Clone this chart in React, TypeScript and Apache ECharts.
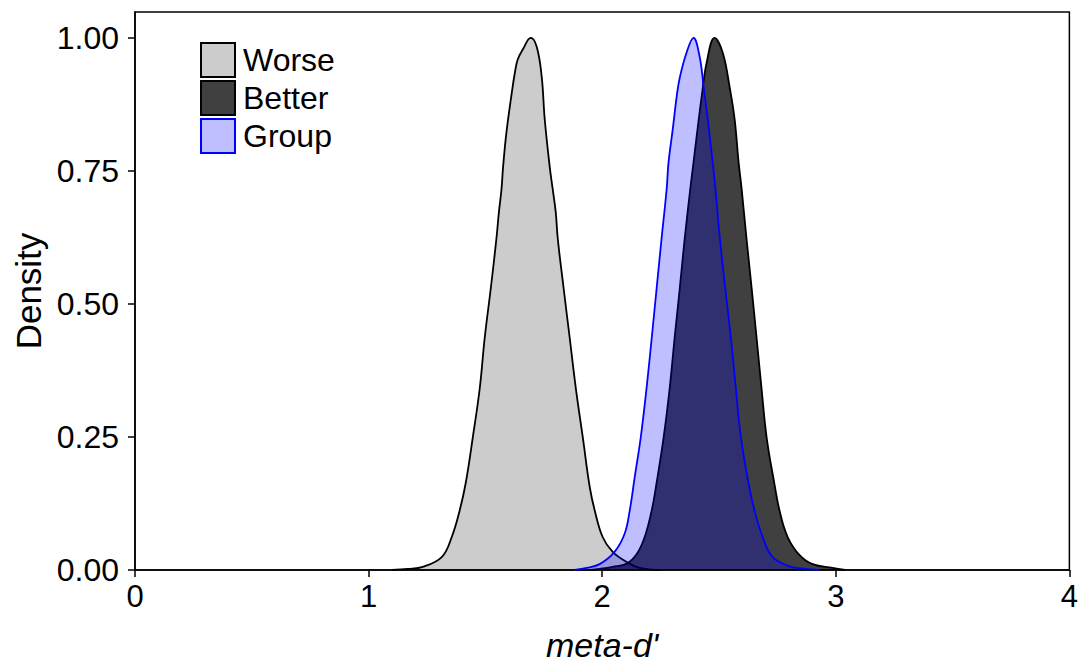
import React, { useEffect, useRef } from "react";
import * as echarts from "echarts";

const seriesNames = ["Worse", "Better", "Group"];

const worseX = [1.10, 1.168, 1.232, 1.313, 1.356, 1.390, 1.416, 1.446, 1.476, 1.497, 1.523, 1.547, 1.558, 1.569, 1.576, 1.590, 1.613, 1.626, 1.638, 1.660, 1.694, 1.720, 1.741, 1.754, 1.775, 1.788, 1.801, 1.810, 1.835, 1.861, 1.887, 1.917, 1.947, 1.968, 2.002, 2.045, 2.105, 2.160, 2.250];
const worseY = [0, 0.002, 0.006, 0.024, 0.062, 0.112, 0.164, 0.249, 0.342, 0.436, 0.529, 0.622, 0.673, 0.716, 0.759, 0.822, 0.897, 0.934, 0.959, 0.978, 1.0, 0.983, 0.927, 0.847, 0.759, 0.716, 0.673, 0.622, 0.529, 0.436, 0.342, 0.249, 0.155, 0.112, 0.062, 0.034, 0.015, 0.004, 0];

const betterX = [1.95, 1.989, 2.045, 2.105, 2.148, 2.182, 2.212, 2.233, 2.263, 2.289, 2.310, 2.332, 2.353, 2.377, 2.391, 2.408, 2.426, 2.447, 2.481, 2.516, 2.545, 2.567, 2.584, 2.597, 2.618, 2.640, 2.661, 2.682, 2.704, 2.738, 2.759, 2.794, 2.845, 2.901, 2.986, 3.04];
const betterY = [0, 0.002, 0.006, 0.012, 0.030, 0.062, 0.112, 0.164, 0.249, 0.342, 0.436, 0.529, 0.622, 0.716, 0.766, 0.828, 0.890, 0.953, 1.0, 0.972, 0.909, 0.847, 0.766, 0.716, 0.622, 0.529, 0.436, 0.342, 0.249, 0.160, 0.112, 0.062, 0.028, 0.011, 0.004, 0];

const groupX = [1.882, 1.934, 1.989, 2.053, 2.096, 2.118, 2.139, 2.165, 2.190, 2.212, 2.233, 2.254, 2.276, 2.284, 2.302, 2.319, 2.332, 2.361, 2.391, 2.417, 2.434, 2.452, 2.473, 2.485, 2.504, 2.527, 2.551, 2.572, 2.594, 2.630, 2.652, 2.687, 2.730, 2.802, 2.875, 2.930];
const groupY = [0, 0.004, 0.011, 0.034, 0.068, 0.112, 0.174, 0.249, 0.342, 0.436, 0.529, 0.622, 0.716, 0.766, 0.828, 0.890, 0.925, 0.972, 1.0, 0.965, 0.909, 0.847, 0.766, 0.716, 0.622, 0.529, 0.436, 0.342, 0.249, 0.155, 0.112, 0.062, 0.024, 0.007, 0.002, 0];

const xTicks = [0, 1, 2, 3, 4];
const yTicks = [0, 0.25, 0.5, 0.75, 1.0];

const fills = ["rgba(0,0,0,0.2)", "rgba(0,0,0,0.75)", "rgba(0,0,255,0.25)"];
const legendFills = ["#CCCCCC", "#404040", "#BFBFFF"];
const strokes = ["#000000", "#000000", "#0000FF"];

const FONT = "'Liberation Sans', Arial, Helvetica, sans-serif";

function zip(xs: number[], ys: number[]) {
  return xs.map((x, i) => [x, ys[i]]);
}

export default function App() {
  const ref = useRef<HTMLDivElement>(null);
  useEffect(() => {
    if (!ref.current) return;
    const chart = echarts.init(ref.current, undefined, { renderer: "svg" });
    const datasets = [zip(worseX, worseY), zip(betterX, betterY), zip(groupX, groupY)];
    chart.setOption({
      animation: false,
      backgroundColor: "#ffffff",
      grid: {
        left: 135,
        right: 11,
        top: 12,
        bottom: 93,
        show: true,
        borderColor: "#000",
        borderWidth: 1.5,
        backgroundColor: "transparent",
      },
      legend: {
        orient: "vertical",
        left: 200,
        top: 42,
        padding: 0,
        itemWidth: 34,
        itemHeight: 34,
        itemGap: 2,
        icon: "rect",
        selectedMode: false,
        textStyle: { fontSize: 32, fontFamily: FONT, color: "#000", padding: [0, 0, 0, 3] },
        data: seriesNames.map((n, i) => ({
          name: n,
          icon: "rect",
          itemStyle: { color: legendFills[i], borderColor: strokes[i], borderWidth: 2 },
        })),
      },
      xAxis: {
        type: "value",
        min: 0,
        max: 4,
        interval: 1,
        name: "meta-d'",
        nameLocation: "middle",
        nameGap: 58,
        nameTextStyle: { fontSize: 34, fontStyle: "italic", fontFamily: FONT, color: "#000" },
        axisLine: { show: true, onZero: false, lineStyle: { color: "#000", width: 1.5 } },
        axisTick: { show: true, inside: false, length: 7, lineStyle: { color: "#000", width: 1.5 }, customValues: xTicks },
        axisLabel: { fontSize: 31, fontFamily: FONT, color: "#000", margin: 11, customValues: xTicks },
        splitLine: { show: false },
      },
      yAxis: {
        type: "value",
        min: 0,
        max: 1.0486,
        name: "Density",
        nameLocation: "middle",
        nameGap: 88,
        nameTextStyle: { fontSize: 35, fontFamily: FONT, color: "#000" },
        axisLine: { show: true, onZero: false, lineStyle: { color: "#000", width: 1.5 } },
        axisTick: { show: true, inside: false, length: 7, lineStyle: { color: "#000", width: 1.5 }, customValues: yTicks },
        axisLabel: {
          fontSize: 32,
          fontFamily: FONT,
          color: "#000",
          margin: 16,
          customValues: yTicks,
          formatter: (v: number) => v.toFixed(2),
        },
        splitLine: { show: false },
      },
      series: seriesNames.map((n, i) => ({
        name: n,
        type: "line",
        data: datasets[i],
        smooth: 0.4,
        symbol: "none",
        color: legendFills[i],
        lineStyle: { color: strokes[i], width: 1.8 },
        itemStyle: { color: legendFills[i], borderColor: strokes[i] },
        areaStyle: { color: fills[i], origin: "start", opacity: 1 },
        z: 2 + i,
      })),
    });
    return () => chart.dispose();
  }, []);
  return (
    <div
      ref={ref}
      style={{ position: "absolute", left: 0, top: 0, width: 1081, height: 667, background: "#fff" }}
    />
  );
}
